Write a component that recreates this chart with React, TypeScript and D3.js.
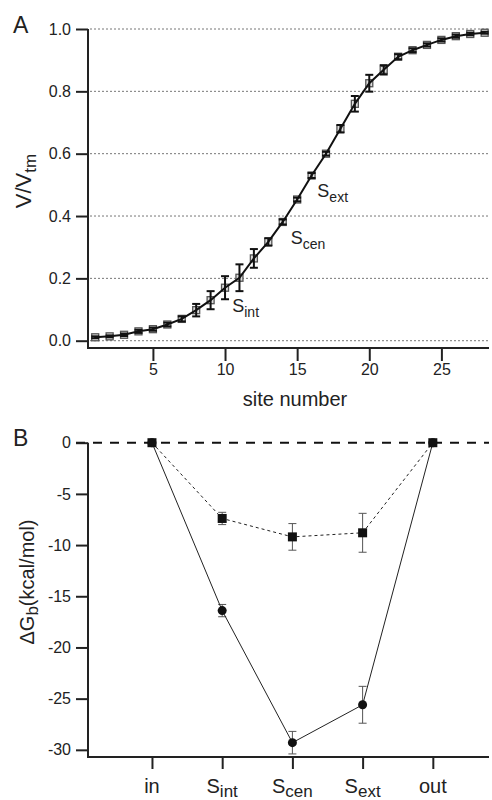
import React, { useEffect, useRef } from "react";
import * as d3 from "d3";

// Panel A: V/Vtm by site number
const sites = [1, 2, 3, 4, 5, 6, 7, 8, 9, 10, 11, 12, 13, 14, 15, 16, 17, 18, 19, 20, 21, 22, 23, 24, 25, 26, 27, 28];
const vValues = [0.011, 0.014, 0.019, 0.030, 0.037, 0.052, 0.070, 0.098, 0.130, 0.170, 0.202, 0.264, 0.317, 0.381,
  0.453, 0.530, 0.600, 0.680, 0.760, 0.826, 0.869, 0.911, 0.932, 0.949, 0.965, 0.977, 0.984, 0.988];
const vErrors = [0.003, 0.003, 0.004, 0.005, 0.005, 0.006, 0.008, 0.020, 0.029, 0.037, 0.043, 0.030, 0.012, 0.008,
  0.006, 0.008, 0.006, 0.012, 0.025, 0.027, 0.015, 0.008, 0.006, 0.005, 0.005, 0.005, 0.004, 0.003];
const yTicksA = [0, 0.2, 0.4, 0.6, 0.8, 1.0];
const xTicksA = [5, 10, 15, 20, 25];
// site labels placed next to the curve (anchor in data units)
const siteNotes = [
  { sub: "int", site: 10.5, v: 0.092 },
  { sub: "cen", site: 14.55, v: 0.31 },
  { sub: "ext", site: 16.4, v: 0.461 },
];

// Panel B: binding free energy per site
const sitesB = [
  { main: "in", sub: "" },
  { main: "S", sub: "int" },
  { main: "S", sub: "cen" },
  { main: "S", sub: "ext" },
  { main: "out", sub: "" },
];
const dgCircle = [0, -16.4, -29.3, -25.6, 0];
const errCircle = [0, 0.6, 1.1, 1.8, 0];
const dgSquare = [0, -7.4, -9.2, -8.8, 0];
const errSquare = [0, 0.6, 1.3, 1.9, 0];
const yTicksB = [0, -5, -10, -15, -20, -25, -30];

export default function App() {
  const ref = useRef<SVGSVGElement>(null);

  useEffect(() => {
    document.body.style.margin = "0";
    const svg = d3.select(ref.current);
    svg.selectAll("*").remove();
    const font = "Arial, 'Liberation Sans', sans-serif";
    svg.attr("font-family", font);

    const left = 88, right = 489;

    // ---------- Panel A ----------
    const xA = d3.scaleLinear().domain([0.5, 28.3]).range([left, right]);
    const yA = d3.scaleLinear().domain([-0.0234, 1.0]).range([348, 29]);
    const gA = svg.append("g");

    gA.selectAll(".grid").data(yTicksA).join("line")
      .attr("x1", left + 2).attr("x2", 488)
      .attr("y1", d => yA(d)).attr("y2", d => yA(d))
      .attr("stroke", "#777").attr("stroke-width", 1).attr("stroke-dasharray", "2,2");

    const yAxA = gA.append("g").attr("transform", `translate(${left},0)`)
      .call(d3.axisLeft(yA).tickValues(yTicksA).tickFormat(d3.format(".1f")).tickSize(12).tickPadding(5));
    yAxA.select(".domain").remove();
    const xAxA = gA.append("g").attr("transform", `translate(0,348)`)
      .call(d3.axisBottom(xA).tickValues(xTicksA).tickSize(13).tickPadding(3));
    xAxA.select(".domain").remove();
    [yAxA, xAxA].forEach(a => {
      a.selectAll("line").attr("stroke", "#222").attr("stroke-width", 2);
      a.selectAll("text").attr("font-size", 16).attr("fill", "#222").attr("font-family", font);
    });
    gA.append("path").attr("d", `M${left},29V348H${right}`)
      .attr("fill", "none").attr("stroke", "#222").attr("stroke-width", 2);

    // markers
    gA.selectAll(".sq").data(sites).join("rect")
      .attr("x", d => xA(d) - 3.5).attr("y", (d, i) => yA(vValues[i]) - 3.5)
      .attr("width", 7).attr("height", 7)
      .attr("fill", "#ddd").attr("stroke", "#555").attr("stroke-width", 1.3);

    // error bars
    const eb = gA.selectAll(".eb").data(sites).join("g");
    eb.append("line")
      .attr("x1", d => xA(d)).attr("x2", d => xA(d))
      .attr("y1", (d, i) => yA(vValues[i] - vErrors[i])).attr("y2", (d, i) => yA(vValues[i] + vErrors[i]))
      .attr("stroke", "#111").attr("stroke-width", 2);
    [-1, 1].forEach(s => {
      eb.append("line")
        .attr("x1", d => xA(d) - 4).attr("x2", d => xA(d) + 4)
        .attr("y1", (d, i) => yA(vValues[i] + s * vErrors[i])).attr("y2", (d, i) => yA(vValues[i] + s * vErrors[i]))
        .attr("stroke", "#111").attr("stroke-width", 2);
    });

    gA.append("path").datum(sites)
      .attr("fill", "none").attr("stroke", "#111").attr("stroke-width", 2)
      .attr("d", d3.line<number>().x(d => xA(d)).y((d, i) => yA(vValues[i])));

    siteNotes.forEach(n => {
      const t = gA.append("text").attr("x", xA(n.site)).attr("y", yA(n.v))
        .attr("font-size", 18).attr("fill", "#222");
      t.append("tspan").text("S");
      t.append("tspan").attr("font-size", 14).attr("dy", 5).text(n.sub);
    });

    const labA = gA.append("text").attr("transform", `translate(31,181) rotate(-90)`)
      .attr("text-anchor", "middle").attr("font-size", 22).attr("fill", "#222");
    labA.append("tspan").text("V/V");
    labA.append("tspan").attr("font-size", 17).attr("dy", 5).text("tm");

    gA.append("text").attr("x", 295).attr("y", 406).attr("text-anchor", "middle")
      .attr("font-size", 20).attr("fill", "#222").text("site number");
    gA.append("text").attr("x", 13).attr("y", 33).attr("font-size", 23).attr("fill", "#222").text("A");

    // ---------- Panel B ----------
    const xB = d3.scaleLinear().domain([0.089, 5.8]).range([left, right]);
    const yB = d3.scaleLinear().domain([-30.7, 0]).range([757, 442.7]);
    const gB = svg.append("g");
    const idx = sitesB.map((d, i) => i + 1);

    gB.append("line").attr("x1", 76).attr("x2", right)
      .attr("y1", yB(0)).attr("y2", yB(0))
      .attr("stroke", "#111").attr("stroke-width", 2).attr("stroke-dasharray", "9,8");

    const yAxB = gB.append("g").attr("transform", `translate(${left},0)`)
      .call(d3.axisLeft(yB).tickValues(yTicksB).tickFormat(d3.format("d")).tickSize(12).tickPadding(5));
    yAxB.select(".domain").remove();
    yAxB.selectAll("line").attr("stroke", "#222").attr("stroke-width", 2);
    yAxB.selectAll("text").attr("font-size", 16).attr("fill", "#222").attr("font-family", font)
      .text(d => d3.format("d")(d as number).replace("−", "-"));

    const xAxB = gB.append("g").attr("transform", `translate(0,757)`)
      .call(d3.axisBottom(xB).tickValues(idx).tickFormat(() => "").tickSize(12));
    xAxB.select(".domain").remove();
    xAxB.selectAll("line").attr("stroke", "#222").attr("stroke-width", 2);
    sitesB.forEach((s, i) => {
      const t = gB.append("text").attr("x", xB(i + 1)).attr("y", 793)
        .attr("text-anchor", "middle").attr("font-size", 20).attr("fill", "#222");
      t.append("tspan").text(s.main);
      if (s.sub) t.append("tspan").attr("font-size", 17).attr("dy", 4).text(s.sub);
    });
    gB.append("path").attr("d", `M${left},${yB(0)}V757H${right}`)
      .attr("fill", "none").attr("stroke", "#222").attr("stroke-width", 2);

    const drawErr = (vals: number[], errs: number[]) => {
      const g = gB.append("g").attr("stroke", "#555").attr("stroke-width", 1);
      idx.forEach((x, i) => {
        if (!errs[i]) return;
        const px = xB(x);
        g.append("line").attr("x1", px).attr("x2", px).attr("y1", yB(vals[i] - errs[i])).attr("y2", yB(vals[i] + errs[i]));
        [-1, 1].forEach(s => g.append("line").attr("x1", px - 4).attr("x2", px + 4)
          .attr("y1", yB(vals[i] + s * errs[i])).attr("y2", yB(vals[i] + s * errs[i])));
      });
    };
    drawErr(dgSquare, errSquare);
    drawErr(dgCircle, errCircle);

    gB.append("path").datum(idx)
      .attr("fill", "none").attr("stroke", "#222").attr("stroke-width", 1).attr("stroke-dasharray", "3,3")
      .attr("d", d3.line<number>().x(d => xB(d)).y((d, i) => yB(dgSquare[i])));
    gB.append("path").datum(idx)
      .attr("fill", "none").attr("stroke", "#222").attr("stroke-width", 1)
      .attr("d", d3.line<number>().x(d => xB(d)).y((d, i) => yB(dgCircle[i])));

    gB.selectAll(".c").data(idx).join("circle")
      .attr("cx", d => xB(d)).attr("cy", (d, i) => yB(dgCircle[i])).attr("r", 4.5).attr("fill", "#111");
    gB.selectAll(".s").data(idx).join("rect")
      .attr("x", d => xB(d) - 4.5).attr("y", (d, i) => yB(dgSquare[i]) - 4.5)
      .attr("width", 9).attr("height", 9).attr("fill", "#111");

    const labB = gB.append("text").attr("transform", `translate(34,582) rotate(-90)`)
      .attr("text-anchor", "middle").attr("font-size", 20).attr("fill", "#222");
    labB.append("tspan").text("ΔG");
    labB.append("tspan").attr("font-size", 17).attr("dy", 4).text("b");
    labB.append("tspan").attr("dy", -4).text("(kcal/mol)");

    gB.append("text").attr("x", 13).attr("y", 446).attr("font-size", 23).attr("fill", "#222").text("B");
  }, []);

  return <svg ref={ref} width={492} height={800} style={{ display: "block", background: "#fff" }} />;
}
